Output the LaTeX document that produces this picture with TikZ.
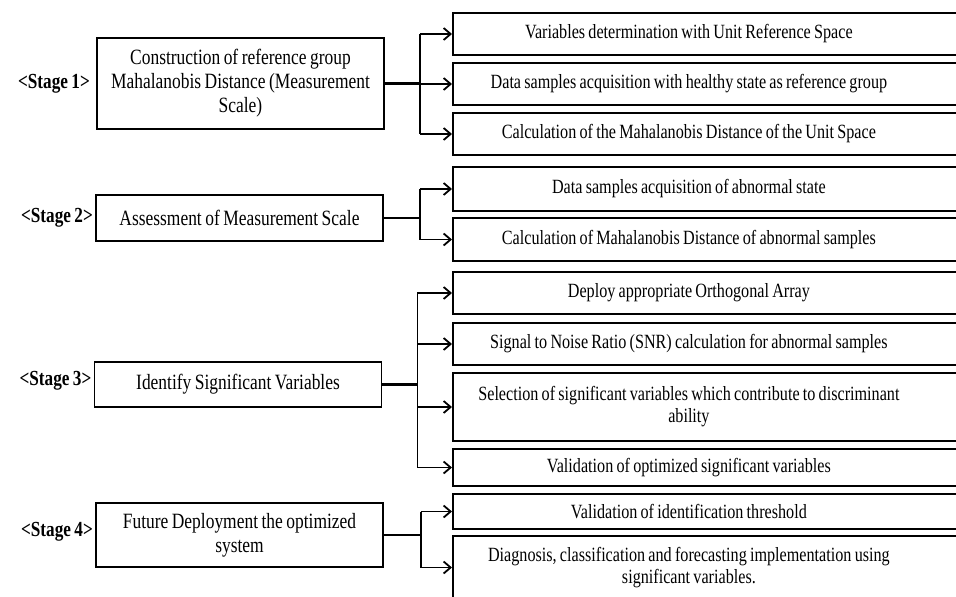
\documentclass[tikz,border=0pt]{standalone}
\usepackage{fontspec}
\setmainfont{Liberation Serif}[FakeStretch=0.8, WordSpace=0.8]
\usetikzlibrary{positioning, arrows.meta}
\tikzset{stagebox/.style={draw, line width=1.8pt, minimum width=287pt, align=center, inner sep=3pt,
                          font=\fontsize{21.8}{24}\selectfont},
         stepbox/.style={draw, line width=1.8pt, minimum width=510pt, anchor=west, inner sep=0pt},
         steptext/.style={text width=470pt, align=flush center, xshift=-19pt, inner sep=0pt,
                          font=\fontsize{20.2}{22}\selectfont},
         stagelabel/.style={font=\bfseries\fontsize{21.5}{24}\selectfont, inner sep=2pt},
         trunk/.style={line width=2.8pt},
         bus/.style={line width=1.8pt},
         branch/.style={line width=1.8pt, -{Straight Barb[length=7pt, width=12pt]}}}

\begin{document}
\begin{tikzpicture}[x=1pt, y=-1pt]
    \useasboundingbox (0,0) rectangle (956,597);
    \clip (0,0) rectangle (956,597);

    % Stage boxes
    \node[stagebox, minimum height=91pt] (s1) at (240.5,83.5) {Construction of  reference group\\Mahalanobis Distance (Measurement\\Scale)};
    \node[stagebox, minimum height=46pt] (s2) at (239.5,218) {Assessment of Measurement Scale};
    \node[stagebox, minimum height=45pt] (s3) at (238,384.5) {Identify Significant  Variables};
    \node[stagebox, minimum height=64pt] (s4) at (239.5,535) {Future Deployment the optimized\\system};

    % Stage labels
    \node[stagelabel, left=4pt of s1] (st1) {<Stage 1>};
    \node[stagelabel, left=0pt of s2] (st2) {<Stage 2>};
    \node[stagelabel, left=0pt of s3, yshift=4pt] (st3) {<Stage 3>};
    \node[stagelabel, left=0pt of s4, yshift=3pt] (st4) {<Stage 4>};

    % Step boxes
    \node[stepbox, minimum height=42pt, label={[steptext]center:{Variables determination with Unit Reference Space}}] (r1) at (452,34) {};
    \node[stepbox, minimum height=42pt, label={[steptext]center:{Data samples acquisition  with healthy state as reference group}}] (r2) at (452,84) {};
    \node[stepbox, minimum height=42pt, label={[steptext]center:{Calculation of the Mahalanobis Distance of the Unit Space}}] (r3) at (452,134) {};
    \node[stepbox, minimum height=44pt, label={[steptext]center:{Data samples acquisition  of abnormal state}}] (r4) at (452,189) {};
    \node[stepbox, minimum height=43pt, label={[steptext]center:{Calculation of Mahalanobis  Distance of abnormal samples}}] (r5) at (452,239.5) {};
    \node[stepbox, minimum height=42pt, label={[steptext]center:{Deploy appropriate Orthogonal  Array}}] (r6) at (452,293) {};
    \node[stepbox, minimum height=42pt, label={[steptext]center:{Signal to Noise Ratio (SNR) calculation for abnormal samples}}] (r7) at (452,344) {};
    \node[stepbox, minimum height=68pt, label={[steptext]center:{Selection of significant  variables which contribute to discriminant\\ability}}] (r8) at (452,407) {};
    \node[stepbox, minimum height=37pt, label={[steptext]center:{Validation of optimized  significant variables}}] (r9) at (452,467.5) {};
    \node[stepbox, minimum height=35pt, label={[steptext]center:{Validation of identification threshold}}] (r10) at (452,511.5) {};
    \node[stepbox, minimum height=63pt, label={[steptext]center:{Diagnosis, classification and forecasting implementation using\\significant variables.}}] (r11) at (452,567.5) {};

    % Junctions
    \coordinate (j1) at ([xshift=35pt]s1.east);
    \coordinate (j2) at ([xshift=36pt]s2.east);
    \coordinate (j3) at ([xshift=35pt]s3.east);
    \coordinate (j4) at ([xshift=37pt]s4.east);

    % Stage 1
    \draw[trunk] (s1.east) -- (j1);
    \draw[bus] (j1 |- r1.west) -- (j1 |- r3.west);
    \foreach \r in {r1, r2, r3}
        \draw[branch] (j1 |- \r.west) -- (\r.west);

    % Stage 2
    \draw[trunk] (s2.east) -- (j2);
    \draw[bus] (j2 |- r4.west) -- (j2 |- r5.west);
    \foreach \r in {r4, r5}
        \draw[branch] (j2 |- \r.west) -- (\r.west);

    % Stage 3
    \draw[trunk] (s3.east) -- (j3);
    \draw[bus] (j3 |- r6.west) -- (j3 |- r9.west);
    \foreach \r in {r6, r7, r8, r9}
        \draw[branch] (j3 |- \r.west) -- (\r.west);

    % Stage 4
    \draw[trunk] (s4.east) -- (j4);
    \draw[bus] (j4 |- r10.west) -- (j4 |- r11.west);
    \foreach \r in {r10, r11}
        \draw[branch] (j4 |- \r.west) -- (\r.west);
\end{tikzpicture}
\end{document}
